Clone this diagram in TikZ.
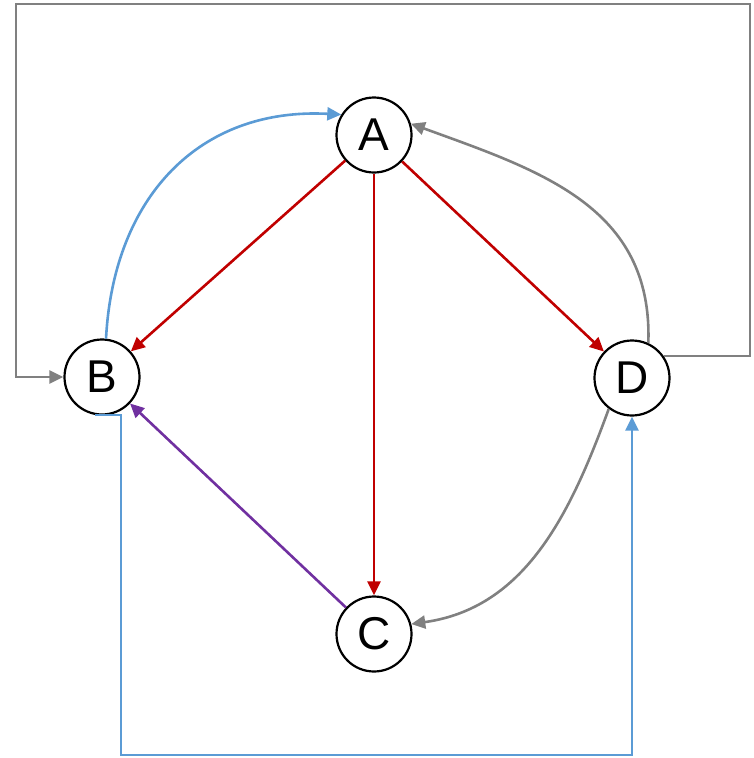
\documentclass[tikz,border=0pt]{standalone}
\usepackage{fontspec}
\setmainfont{Liberation Sans}
\usetikzlibrary{arrows.meta}
\definecolor{cred}{HTML}{C00000}
\definecolor{cblue}{HTML}{5B9BD5}
\definecolor{cgray}{HTML}{808080}
\definecolor{cpurple}{HTML}{7030A0}
\begin{document}
\begin{tikzpicture}[x=1pt,y=-1pt,
  vtx/.style={circle,draw=black,line width=2.2pt,minimum size=75pt,inner sep=0pt,font=\fontsize{46}{46}\selectfont},
  edge/.style={line width=2.6pt,-{Triangle[length=14pt,width=13pt]}},
  ered/.style={edge,draw=cred},
  eblue/.style={edge,draw=cblue},
  egray/.style={edge,draw=cgray},
  epurp/.style={edge,draw=cpurple}]
\useasboundingbox (0,0) rectangle (754,758);
\node[vtx] (A) at (374,135) {A};
\node[vtx] (B) at (102,377) {B};
\node[vtx] (C) at (374,634) {C};
\node[vtx] (D) at (632,378) {D};
\coordinate (tr) at (750,4);
\coordinate (tl) at (16,4);
\coordinate (bl) at (121,755);
\draw[ered] (A) -- (B);
\draw[ered] (A) -- (C);
\draw[ered] (A) -- (D);
\draw[epurp] (C) -- (B);
\draw[eblue] (B.84) to[out=87,in=177,looseness=1.12] (A.148);
\draw[egray] (D.65) to[out=88,in=-20,looseness=1.08] (A.17);
\draw[egray] (D.-127) to[out=-110,in=8,looseness=1] (C.15);
\draw[egray] (D.35) -| (tr) -- (tl) |- (B.west);
\draw[eblue] (B.-100) -| (bl) -| (D.south);
\end{tikzpicture}
\end{document}
